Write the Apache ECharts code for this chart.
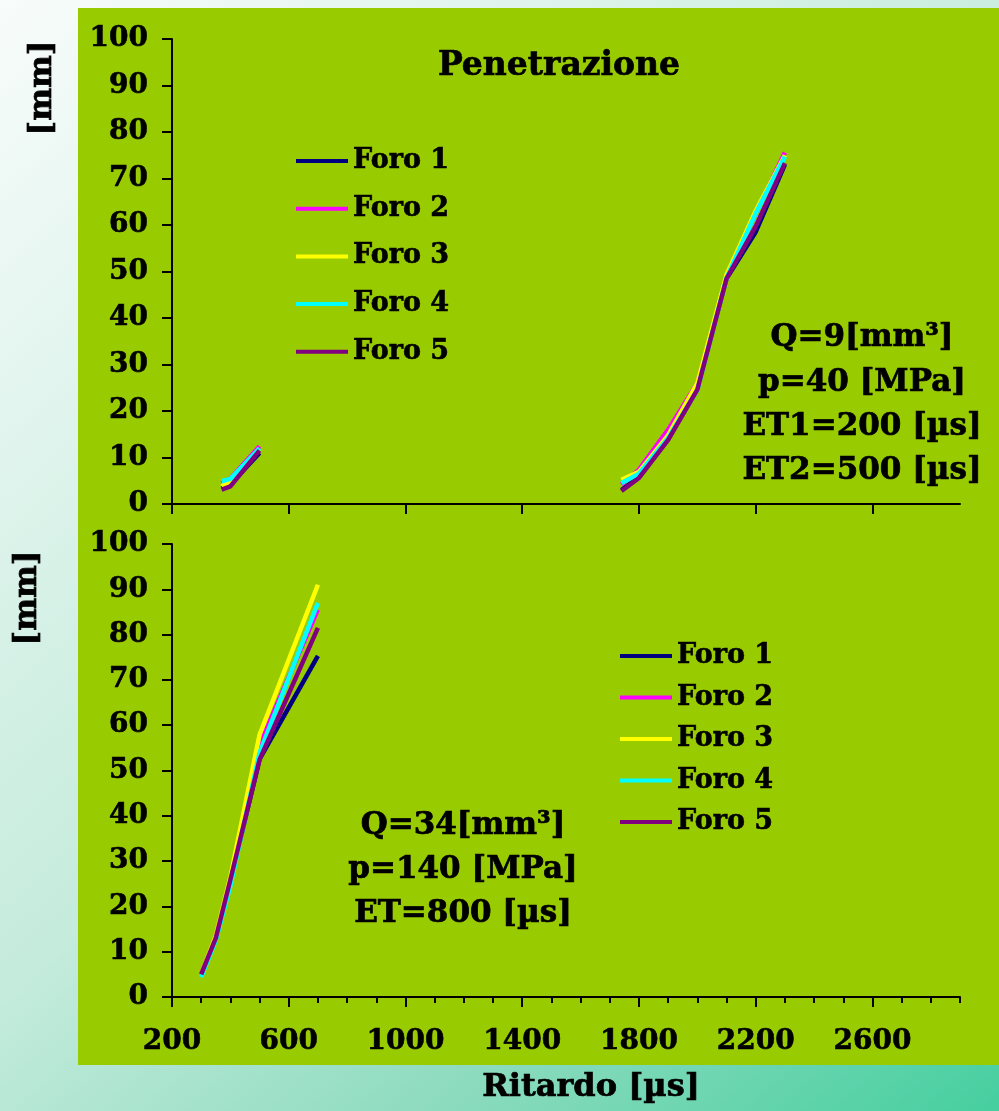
<!DOCTYPE html>
<html>
<head>
<meta charset="utf-8">
<title>Penetrazione</title>
<script src="https://cdn.jsdelivr.net/npm/echarts@6.0.0/dist/echarts.min.js"></script>
<style>
  html, body { margin: 0; padding: 0; }
  #chart { width: 999px; height: 1111px; }
</style>
</head>
<body>
<div id="chart"></div>
<script>
// valori
const foroNames = ['Foro 1', 'Foro 2', 'Foro 3', 'Foro 4', 'Foro 5'];
const xTickValues = [200, 600, 1000, 1400, 1800, 2200, 2600];

// grafico sopra: Q=9, due gruppi di punti
const topLeftX = [370, 400, 500];
const topLeftY = [
  [3.3, 4.2, 11.0],
  [4.5, 5.5, 12.4],
  [3.8, 4.8, 11.8],
  [4.9, 5.4, 12.0],
  [3.1, 3.8, 11.5]
];
const topRightX = [1740, 1800, 1900, 2000, 2100, 2200, 2300];
const topRightY = [
  [3.0, 5.8, 14.0, 25.0, 48.5, 58.5, 73.0],
  [4.2, 7.4, 16.0, 26.0, 48.5, 62.5, 75.6],
  [5.2, 6.9, 14.8, 26.0, 49.3, 63.0, 75.0],
  [4.5, 6.5, 14.2, 24.5, 48.6, 62.5, 74.7],
  [2.8, 5.6, 13.8, 24.6, 48.5, 59.7, 73.3]
];

// grafico sotto: Q=34
const bottomX = [300, 350, 400, 500, 700];
const bottomY = [
  [5.0, 13.0, 25.8, 52.5, 75.3],
  [5.0, 13.3, 26.0, 55.7, 85.5],
  [5.0, 13.5, 26.5, 57.9, 91.0],
  [4.4, 12.5, 24.5, 53.9, 87.0],
  [5.0, 13.0, 25.9, 52.4, 81.5]
];

const foroColors = ['#000080', '#ff00ff', '#ffff00', '#00ffff', '#800080'];
const FONT = 'DejaVu Serif';

function pairs(xs, ys) {
  return xs.map((x, i) => [x, ys[i]]);
}

function lineSeries(i, xAxisIndex, yAxisIndex, data) {
  return {
    name: foroNames[i],
    type: 'line',
    xAxisIndex: xAxisIndex,
    yAxisIndex: yAxisIndex,
    data: data,
    symbol: 'none',
    silent: true,
    lineStyle: { width: 4.5, color: foroColors[i] },
    itemStyle: { color: foroColors[i] }
  };
}

const series = [];
foroNames.forEach((name, i) => {
  series.push(lineSeries(i, 0, 0, pairs(topLeftX, topLeftY[i])));
  series.push(lineSeries(i, 0, 0, pairs(topRightX, topRightY[i])));
  series.push(lineSeries(i, 1, 1, pairs(bottomX, bottomY[i])));
});

const axisText = {
  fontFamily: FONT, fontWeight: 'bold', fontSize: 28, color: '#000',
  textBorderColor: '#000', textBorderWidth: 0.6,
  formatter: (v) => String(v)
};
const axisLine = { show: true, lineStyle: { color: '#000', width: 2 } };

function yAxis(gridIndex) {
  return {
    type: 'value', gridIndex: gridIndex, min: 0, max: 100, interval: 10,
    axisLine: axisLine,
    axisTick: { show: true, length: 10, lineStyle: { color: '#000', width: 2 } },
    axisLabel: Object.assign({ margin: 24 }, axisText),
    splitLine: { show: false }
  };
}

function textEl(text, x, y, size, extra) {
  return Object.assign({
    type: 'text', x: x, y: y, z: 10,
    style: {
      text: text, fill: '#000', align: 'center', verticalAlign: 'middle',
      stroke: '#000', lineWidth: 0.7,
      font: 'bold ' + size + 'px "' + FONT + '"'
    }
  }, extra || {});
}

const legendBase = {
  data: foroNames, orient: 'vertical', icon: 'rect',
  itemWidth: 52, itemHeight: 4, selectedMode: false, padding: 0,
  textStyle: {
    fontFamily: FONT, fontWeight: 'bold', fontSize: 27, color: '#000', lineHeight: 30,
    textBorderColor: '#000', textBorderWidth: 0.6
  }
};

const chart = echarts.init(document.getElementById('chart'));
chart.setOption({
  animation: false,
  graphic: [
    {
      type: 'rect', z: -2, shape: { x: 0, y: 0, width: 999, height: 1111 },
      style: {
        fill: new echarts.graphic.LinearGradient(0, 0, 1, 1, [
          { offset: 0, color: '#f8fcfb' },
          { offset: 0.5, color: '#c4ebdc' },
          { offset: 0.75, color: '#8cdbbf' },
          { offset: 1, color: '#46cfa0' }
        ])
      }
    },
    { type: 'rect', z: -1, shape: { x: 78, y: 8, width: 921, height: 1057 }, style: { fill: '#99cc00' } },
    textEl('Penetrazione', 559, 66, 33),
    textEl('Q=9[mm³]', 862, 338, 31),
    textEl('p=40 [MPa]', 862, 383, 31),
    textEl('ET1=200 [µs]', 862, 427, 31),
    textEl('ET2=500 [µs]', 862, 471, 31),
    textEl('Q=34[mm³]', 463, 826, 31),
    textEl('p=140 [MPa]', 463, 870, 31),
    textEl('ET=800 [µs]', 463, 914, 31),
    textEl('Ritardo [µs]', 591, 1088, 32),
    textEl('[mm]', 43, 88, 31, { rotation: Math.PI / 2 }),
    textEl('[mm]', 28, 598, 31, { rotation: Math.PI / 2 })
  ],
  legend: [
    Object.assign({ left: 296, top: 146, itemGap: 17.7 }, legendBase),
    Object.assign({ left: 620, top: 641, itemGap: 11.5 }, legendBase)
  ],
  grid: [
    { left: 172, top: 39, width: 788, height: 465 },
    { left: 172, top: 544, width: 788, height: 453 }
  ],
  xAxis: [
    {
      type: 'value', gridIndex: 0, min: 200, max: 2900, interval: 400,
      axisLine: axisLine,
      axisTick: { show: true, length: 10, customValues: xTickValues, lineStyle: { color: '#000', width: 2 } },
      axisLabel: { show: false },
      splitLine: { show: false }
    },
    {
      type: 'value', gridIndex: 1, min: 200, max: 2900, interval: 100,
      axisLine: axisLine,
      axisTick: { show: true, length: 6, lineStyle: { color: '#000', width: 2 } },
      axisLabel: { show: false },
      splitLine: { show: false }
    },
    {
      type: 'value', gridIndex: 1, min: 200, max: 2900, interval: 400, position: 'bottom',
      axisLine: { show: false },
      axisTick: { show: true, length: 10, customValues: xTickValues, lineStyle: { color: '#000', width: 2 } },
      axisLabel: Object.assign({ margin: 31, customValues: xTickValues }, axisText),
      splitLine: { show: false }
    }
  ],
  yAxis: [yAxis(0), yAxis(1)],
  series: series
});
</script>
</body>
</html>
